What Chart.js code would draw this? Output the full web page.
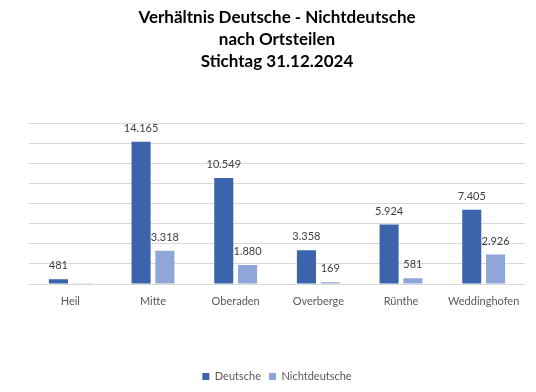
<!DOCTYPE html>
<html><head><meta charset="utf-8">
<script src="https://cdn.jsdelivr.net/npm/chart.js@4"></script>
<style>html,body{margin:0;padding:0;background:#fff}#wrap{width:536px;height:392px}</style>
</head><body><div id="wrap"><canvas id="c" width="536" height="392"></canvas></div>
<script>
const categories = ['Heil', 'Mitte', 'Oberaden', 'Overberge', 'Rünthe', 'Weddinghofen'];
const deutsche = [481, 14165, 10549, 3358, 5924, 7405];
const nichtdeutsche = [35, 3318, 1880, 169, 581, 2926];
const titleLines = ['Verhältnis Deutsche - Nichtdeutsche', 'nach Ortsteilen', 'Stichtag 31.12.2024'];
const hiddenLabels = [{series: 1, category: 'Heil'}];
const FONT = 'Lato, "Open Sans", sans-serif';

const fmt = v => v.toLocaleString('de-DE');

const labelPlugin = {
  id: 'valueLabels',
  afterDatasetsDraw(chart) {
    const ctx = chart.ctx;
    ctx.save();
    ctx.font = '11px ' + FONT;
    ctx.fillStyle = '#404040';
    ctx.textAlign = 'center';
    ctx.textBaseline = 'alphabetic';
    chart.data.datasets.forEach((ds, di) => {
      const meta = chart.getDatasetMeta(di);
      meta.data.forEach((bar, i) => {
        if (hiddenLabels.some(h => h.series === di && h.category === categories[i])) return;
        ctx.fillText(fmt(ds.data[i]), bar.x, bar.y - 10);
      });
    });
    ctx.restore();
  }
};

new Chart(document.getElementById('c'), {
  type: 'bar',
  data: {
    labels: categories,
    datasets: [
      {label: 'Deutsche', data: deutsche, backgroundColor: '#3B64AD', categoryPercentage: 0.576, barPercentage: 0.8},
      {label: 'Nichtdeutsche', data: nichtdeutsche, backgroundColor: '#8EA6D8', categoryPercentage: 0.576, barPercentage: 0.8}
    ]
  },
  options: {
    responsive: false,
    animation: false,
    layout: {padding: {left: 29, right: 11, top: 6, bottom: 0}},
    plugins: {
      title: {
        display: true,
        text: titleLines,
        color: '#000',
        font: {family: FONT, size: 17, weight: 'bold', lineHeight: 1.3},
        padding: {top: 0, bottom: 51}
      },
      legend: {
        position: 'bottom',
        labels: {
          boxWidth: 7, boxHeight: 7, padding: 8,
          color: '#595959',
          font: {family: FONT, size: 11}
        }
      },
      tooltip: {enabled: false}
    },
    scales: {
      x: {
        grid: {display: false},
        border: {display: false},
        ticks: {color: '#595959', font: {family: FONT, size: 11}, padding: 3},
        afterFit: s => { s.height = 79; }
      },
      y: {
        min: 0, max: 16000,
        ticks: {display: false, stepSize: 2000},
        grid: {color: '#D9D9D9', drawTicks: false},
        border: {display: false}
      }
    }
  },
  plugins: [labelPlugin]
});
</script></body></html>
